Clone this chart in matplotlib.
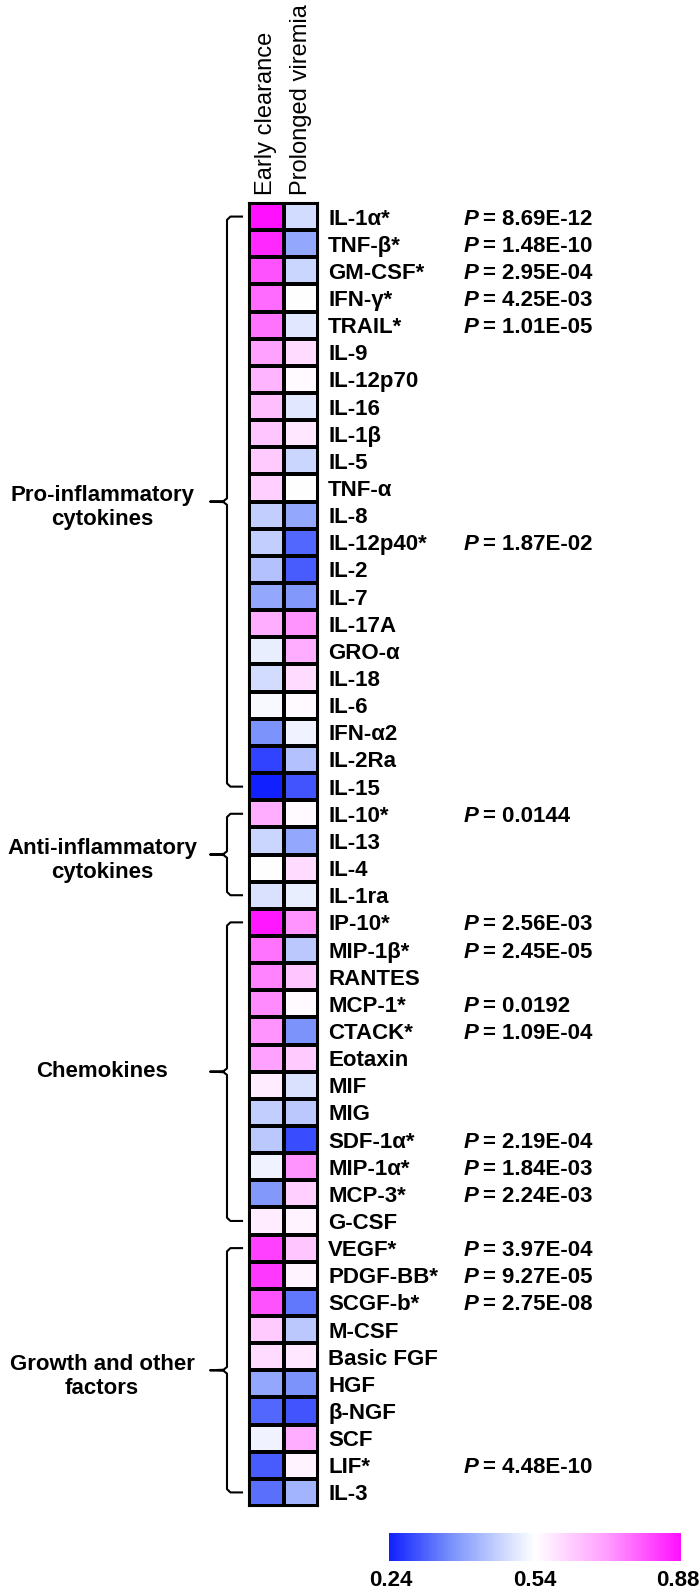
import matplotlib
matplotlib.use("Agg")
import matplotlib.pyplot as plt
import numpy as np
from matplotlib.colors import LinearSegmentedColormap, TwoSlopeNorm
from matplotlib.transforms import offset_copy, blended_transform_factory

plt.rcParams['font.family'] = ['Liberation Sans', 'DejaVu Sans']

################################################################################
# data
################################################################################
analytes = ["IL-1α*", "TNF-β*", "GM-CSF*", "IFN-γ*", "TRAIL*", "IL-9", "IL-12p70",
            "IL-16", "IL-1β", "IL-5", "TNF-α", "IL-8", "IL-12p40*", "IL-2", "IL-7",
            "IL-17A", "GRO-α", "IL-18", "IL-6", "IFN-α2", "IL-2Ra", "IL-15",
            "IL-10*", "IL-13", "IL-4", "IL-1ra",
            "IP-10*", "MIP-1β*", "RANTES", "MCP-1*", "CTACK*", "Eotaxin", "MIF", "MIG",
            "SDF-1α*", "MIP-1α*", "MCP-3*", "G-CSF",
            "VEGF*", "PDGF-BB*", "SCGF-b*", "M-CSF", "Basic FGF", "HGF", "β-NGF",
            "SCF", "LIF*", "IL-3"]

early_clearance = [0.88, 0.85, 0.80, 0.77, 0.76, 0.70, 0.67, 0.65, 0.64, 0.63, 0.62,
                   0.46, 0.46, 0.44, 0.40, 0.68, 0.51, 0.48, 0.53, 0.37, 0.28, 0.24,
                   0.68, 0.47, 0.54, 0.49,
                   0.87, 0.76, 0.74, 0.73, 0.72, 0.70, 0.57, 0.46, 0.45, 0.52, 0.38, 0.57,
                   0.82, 0.83, 0.80, 0.63, 0.60, 0.40, 0.32, 0.52, 0.31, 0.33]

prolonged_viremia = [0.48, 0.40, 0.47, 0.54, 0.50, 0.60, 0.55, 0.50, 0.58, 0.47, 0.54,
                     0.40, 0.32, 0.31, 0.38, 0.72, 0.68, 0.60, 0.55, 0.52, 0.44, 0.30,
                     0.55, 0.40, 0.60, 0.51,
                     0.72, 0.45, 0.64, 0.55, 0.37, 0.63, 0.49, 0.45, 0.29, 0.72, 0.62, 0.56,
                     0.64, 0.56, 0.34, 0.45, 0.58, 0.37, 0.30, 0.68, 0.56, 0.42]

columns = ["Early clearance", "Prolonged viremia"]

pvalues = {"IL-1α*": "8.69E-12", "TNF-β*": "1.48E-10", "GM-CSF*": "2.95E-04",
           "IFN-γ*": "4.25E-03", "TRAIL*": "1.01E-05", "IL-12p40*": "1.87E-02",
           "IL-10*": "0.0144", "IP-10*": "2.56E-03", "MIP-1β*": "2.45E-05",
           "MCP-1*": "0.0192", "CTACK*": "1.09E-04", "SDF-1α*": "2.19E-04",
           "MIP-1α*": "1.84E-03", "MCP-3*": "2.24E-03", "VEGF*": "3.97E-04",
           "PDGF-BB*": "9.27E-05", "SCGF-b*": "2.75E-08", "LIF*": "4.48E-10"}

groups = ["Pro-inflammatory\ncytokines", "Anti-inflammatory\ncytokines",
          "Chemokines", "Growth and other\nfactors"]
group_sizes = [22, 4, 12, 10]

cbar_ticks = [0.24, 0.54, 0.88]

################################################################################
# figure
################################################################################
W, H = 700, 1591
fig = plt.figure(figsize=(W / 100, H / 100), dpi=100)

hm_left, hm_right, hm_top, hm_bottom = 249, 318, 203, 1506
ax = fig.add_axes([hm_left / W, 1 - hm_bottom / H,
                   (hm_right - hm_left) / W, (hm_bottom - hm_top) / H])

cmap = LinearSegmentedColormap.from_list(
    "bwm", [(0.0, "#1020ff"), (0.22, "#7d95fb"), (0.40, "#d2dcff"),
            (0.5, "#ffffff"), (0.75, "#ff9cff"), (1.0, "#ff10ff")])
norm = TwoSlopeNorm(vmin=0.24, vcenter=0.54, vmax=0.88)

data = np.column_stack([early_clearance, prolonged_viremia])
n = len(analytes)
mesh = ax.pcolormesh(data, cmap=cmap, norm=norm, edgecolors="black", linewidth=1.5)
ax.set_xlim(0, 2)
ax.set_ylim(n, 0)
ax.set_xticks([])
ax.set_yticks([])
for s in ax.spines.values():
    s.set_linewidth(1.5)

col_w = (hm_right - hm_left) / 2.0

def px_x(px):
    return (px - hm_left) / col_w

# column headers
for j, c in enumerate(columns):
    ax.text(j + 0.5, -0.3, c, rotation=90, ha="center", va="bottom",
            fontsize=17, clip_on=False)

# row labels and p-values
p_trans = offset_copy(ax.transData, fig=fig, x=19, y=0, units="dots")
for i, name in enumerate(analytes):
    ax.text(px_x(328), i + 0.5, name, ha="left", va="center_baseline",
            fontsize=16, fontweight="bold", clip_on=False)
    if name in pvalues:
        ax.text(px_x(464), i + 0.5, "P", ha="left", va="center_baseline",
                fontsize=16, fontweight="bold", style="italic", clip_on=False)
        ax.text(px_x(464), i + 0.5, "= " + pvalues[name], ha="left",
                va="center_baseline", fontsize=16, fontweight="bold",
                transform=p_trans, clip_on=False)

# braces and group labels
xb, xh, xc = px_x(227), px_x(242), px_x(210)
start = 0
for g, size in zip(groups, group_sizes):
    top = start + 0.5
    bot = start + size - 0.5
    mid = (top + bot) / 2
    d = 0.12
    ax.plot([xh, xb + 0.1, xb, xb, xb - 0.1, xc, xb - 0.1, xb, xb, xb + 0.1, xh],
            [top, top, top + d, mid - d, mid - 0.02, mid, mid + 0.02, mid + d,
             bot - d, bot, bot],
            color="black", lw=1.5, clip_on=False, solid_joinstyle="round")
    shift = 0.22 if "\n" in g else 0.0
    ax.text(px_x(102), mid + shift, g, ha="center", va="center", fontsize=16,
            fontweight="bold", linespacing=1.2, clip_on=False)
    start += size

# colorbar
cax = fig.add_axes([389 / W, 1 - 1561 / H, (681 - 389) / W, 28 / H])
cbar = fig.colorbar(mesh, cax=cax, orientation="horizontal")
cbar.outline.set_visible(False)
cbar.set_ticks([])
cax.tick_params(length=0)
tick_trans = blended_transform_factory(cax.transData, cax.transAxes)
tick_shift = [2, 0, -3]
for t, dx in zip(cbar_ticks, tick_shift):
    tr = offset_copy(tick_trans, fig=fig, x=dx, y=0, units="dots")
    cax.text(t, -0.32, "%.2f" % t, transform=tr, ha="center", va="top",
             fontsize=16, fontweight="bold", clip_on=False)

fig.savefig("out.png", dpi=100)
